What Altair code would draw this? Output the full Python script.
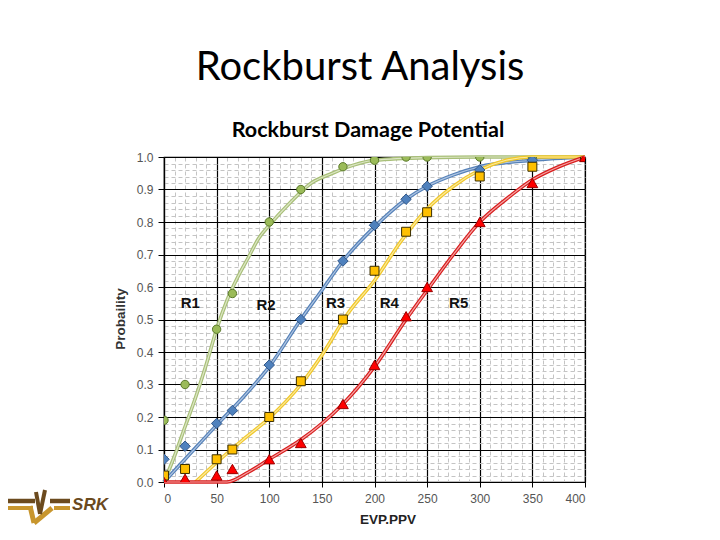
import altair as alt
import pandas as pd

# ---------------- data ----------------
x_obs = [0, 20, 50, 65, 100, 130, 170, 200, 230, 250, 300, 350, 400]
green_obs = [0.19, 0.30, 0.47, 0.58, 0.80, 0.90, 0.97, 0.99, 1.0, 1.0, 1.0, 1.0, 1.0]
blue_obs = [0.07, 0.11, 0.18, 0.22, 0.36, 0.50, 0.68, 0.79, 0.87, 0.91, 0.96, 0.99, 1.0]
yellow_obs = [0.02, 0.04, 0.07, 0.10, 0.20, 0.31, 0.50, 0.65, 0.77, 0.83, 0.94, 0.97, 1.0]
red_obs = [0.0, 0.01, 0.02, 0.04, 0.07, 0.12, 0.24, 0.36, 0.51, 0.60, 0.80, 0.92, 1.0]

# fitted curves
green_cx = [0, 10, 20, 30, 40, 50, 60, 70, 80, 90, 100, 120, 140, 160, 180, 200, 250, 300, 400]
green_cy = [0.0, 0.08, 0.17, 0.26, 0.36, 0.47, 0.56, 0.63, 0.69, 0.75, 0.79, 0.86, 0.92, 0.95, 0.975, 0.99, 0.998, 1.0, 1.0]
blue_cx = [0, 20, 50, 75, 100, 130, 150, 170, 200, 230, 250, 275, 300, 350, 400]
blue_cy = [0.0, 0.07, 0.175, 0.26, 0.355, 0.50, 0.59, 0.68, 0.785, 0.87, 0.91, 0.945, 0.97, 0.99, 1.0]
yellow_cx = [30, 50, 75, 100, 130, 150, 175, 200, 225, 250, 275, 300, 325, 350, 400]
yellow_cy = [0.0, 0.06, 0.13, 0.197, 0.30, 0.39, 0.52, 0.62, 0.74, 0.84, 0.91, 0.96, 0.99, 1.0, 1.0]
red_cx = [0, 60, 80, 100, 130, 150, 170, 200, 230, 250, 275, 300, 325, 350, 375, 400]
red_cy = [0.0, 0.0, 0.03, 0.07, 0.13, 0.18, 0.24, 0.355, 0.50, 0.59, 0.70, 0.80, 0.87, 0.93, 0.97, 1.0]

zone_labels = ["R1", "R2", "R3", "R4", "R5"]
zone_x = [25, 97, 163, 214, 280]
zone_y = [0.55, 0.545, 0.55, 0.55, 0.55]

x_ticks = [0, 50, 100, 150, 200, 250, 300, 350, 400]
y_ticks = [0.0, 0.1, 0.2, 0.3, 0.4, 0.5, 0.6, 0.7, 0.8, 0.9, 1.0]
x_minor = list(range(0, 401, 10))
y_minor = [i / 50 for i in range(51)]

# ---------------- tables ----------------
series = [
    ("green", green_obs, green_cx, green_cy),
    ("blue", blue_obs, blue_cx, blue_cy),
    ("yellow", yellow_obs, yellow_cx, yellow_cy),
    ("red", red_obs, red_cx, red_cy),
]
pts = {name: pd.DataFrame({"x": x_obs, "y": obs}) for name, obs, _, _ in series}
crv = {name: pd.DataFrame({"x": cx, "y": cy}) for name, _, cx, cy in series}
zones = pd.DataFrame({"label": zone_labels, "x": zone_x, "y": zone_y})

xs = alt.Scale(domain=[0, 400], nice=False, zero=False)
ys = alt.Scale(domain=[0, 1], nice=False, zero=False)

W, H = 421, 325

# minor grid layer
minor = alt.Chart(crv["blue"]).mark_point(opacity=0).encode(
    x=alt.X("x:Q", scale=xs, axis=alt.Axis(values=x_minor, grid=True, gridColor="#C4C4C4",
                                           gridDash=[4, 3], gridWidth=1, labels=False, ticks=False,
                                           domain=False, title=None, orient="bottom")),
    y=alt.Y("y:Q", scale=ys, axis=alt.Axis(values=y_minor, grid=True, gridColor="#C4C4C4",
                                           gridDash=[4, 3], gridWidth=1, labels=False, ticks=False,
                                           domain=False, title=None, orient="left")),
)

curve_style = {
    "green": ("#A8BF78", "#DCE6C4"),
    "blue": ("#5581B8", "#AFC5E2"),
    "yellow": ("#F0C72A", "#FBEA9E"),
    "red": ("#D81E1E", "#F5A5A5"),
}

layers = [minor]
for name, _, _, _ in series:
    outer, inner = curve_style[name]
    base = alt.Chart(crv[name]).encode(
        x=alt.X("x:Q", scale=xs, axis=None),
        y=alt.Y("y:Q", scale=ys, axis=None),
    )
    layers.append(base.mark_line(color=outer, strokeWidth=3.6, interpolate="monotone"))
    layers.append(base.mark_line(color=inner, strokeWidth=1.2, interpolate="monotone"))

marker_style = {
    "green": dict(shape="circle", fill="#9BBB59", stroke="#5B7A2C", size=70),
    "blue": dict(shape="diamond", fill="#4F81BD", stroke="#34598A", size=110),
    "yellow": dict(shape="square", fill="#FFC000", stroke="#3A2E00", size=80),
    "red": dict(shape="triangle-up", fill="#FF0000", stroke="#9A0000", size=115),
}

first = True
for name, _, _, _ in series:
    st = marker_style[name]
    if first:
        xa = alt.Axis(values=x_ticks, grid=True, gridColor="#000000", gridWidth=1.2,
                      domainColor="#000000", domainWidth=1.2, tickColor="#000000", tickSize=5,
                      labelFont="Liberation Sans", labelFontSize=12, labelColor="#555555",
                      labelPadding=6, title=None, orient="bottom")
        ya = alt.Axis(values=y_ticks, format=".1f", grid=True, gridColor="#000000", gridWidth=1.2,
                      domainColor="#000000", domainWidth=1.2, tickColor="#000000", tickSize=6,
                      labelFont="Liberation Sans", labelFontSize=12, labelColor="#555555",
                      labelPadding=5, title=None, orient="left")
        first = False
    else:
        xa = None
        ya = None
    layers.append(
        alt.Chart(pts[name]).mark_point(shape=st["shape"], filled=True, fill=st["fill"],
                                        stroke=st["stroke"], strokeWidth=1, size=st["size"],
                                        opacity=1, clip=True).encode(
            x=alt.X("x:Q", scale=xs, axis=xa),
            y=alt.Y("y:Q", scale=ys, axis=ya),
        )
    )

layers.append(
    alt.Chart(zones).mark_text(font="Liberation Sans", fontSize=15, fontWeight="bold",
                               color="#111111").encode(
        x=alt.X("x:Q", scale=xs, axis=None),
        y=alt.Y("y:Q", scale=ys, axis=None),
        text="label:N",
    )
)

one = pd.DataFrame({"a": [0]})


def txt(s, x, y, **kw):
    return alt.Chart(one).mark_text(**kw).encode(x=alt.value(x), y=alt.value(y), text=alt.value(s))


layers.append(txt("Rockburst Analysis", 196, -89, font="Lato", fontSize=40, color="#000000"))
layers.append(txt("Rockburst Damage Potential", 204, -26, font="Lato", fontSize=21.5,
                  fontWeight="bold", color="#000000"))
layers.append(txt("Probaility", -43, 162, font="Liberation Sans", fontSize=13.5, angle=270,
                  color="#333333", fontWeight="bold"))
layers.append(txt("EVP.PPV", 224, 363, font="Liberation Sans", fontSize=13.5, fontWeight="bold",
                  color="#222222"))

# SRK logo (decorative)
def rule(x1, y1, x2, y2, color, w):
    return alt.Chart(one).mark_rule(color=color, strokeWidth=w).encode(
        x=alt.value(x1), y=alt.value(y1), x2=alt.value(x2), y2=alt.value(y2))

logo_brown = "#6B4A1E"
logo_gold = "#C8962E"
layers += [
    rule(-157, 344, -129, 344, logo_brown, 4.5),
    rule(-114, 344, -94, 344, logo_brown, 4.5),
    rule(-157, 351, -131, 351, logo_gold, 4),
    rule(-110, 351, -94, 351, logo_gold, 4),
    rule(-134, 349, -130, 366, logo_gold, 5),
    rule(-130, 366, -112, 351, logo_gold, 5),
    rule(-128, 335, -124, 357, logo_brown, 4),
    rule(-124, 357, -119, 333, logo_brown, 4),
]
layers.append(txt("SRK", -74, 348, font="Liberation Sans", fontSize=17, fontWeight="bold",
                  fontStyle="italic", color=logo_brown))

chart = alt.layer(*layers).resolve_axis(x="independent", y="independent").properties(
    width=W, height=H,
    padding={"left": 156, "top": 149, "right": 115, "bottom": 44},
    autosize=alt.AutoSizeParams(type="none"),
    background="white",
).configure_view(stroke="#000000", strokeWidth=1.2)

chart.save("out.html", embed_options={"renderer": "svg", "actions": False})
